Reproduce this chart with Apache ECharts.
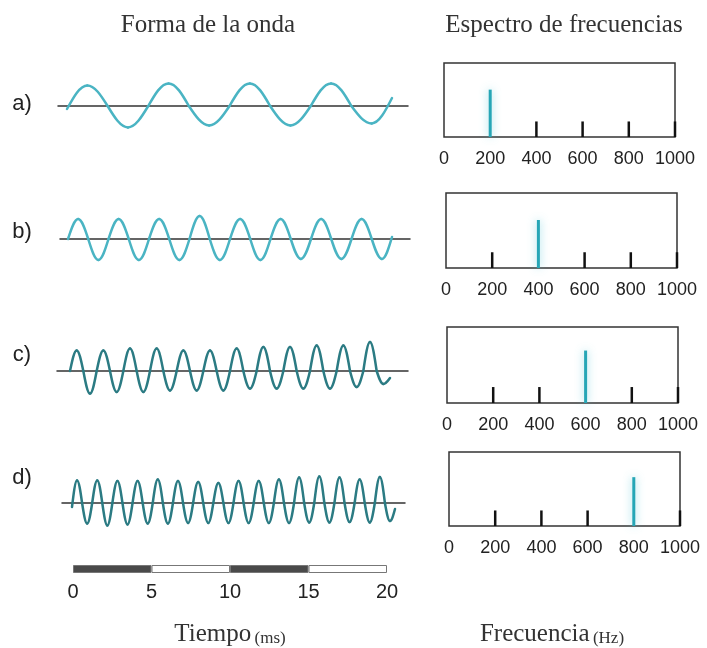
<!DOCTYPE html>
<html>
<head>
<meta charset="utf-8">
<script src="https://cdn.jsdelivr.net/npm/echarts@6/dist/echarts.min.js"></script>
<style>
  html, body { margin: 0; padding: 0; background: #ffffff; }
  #chart { width: 707px; height: 648px; }
</style>
</head>
<body>
<div id="chart"></div>
<script>
// ---- data ----
const rowLabels = ['a)', 'b)', 'c)', 'd)'];
const toneFreqs = [200, 400, 600, 800];          // Hz, one pure tone per row
const toneLevels = [0.64, 0.64, 0.69, 0.66];     // spectral line height (box = 1)
const tickMarks = [200, 400, 600, 800, 1000];    // reference marks inside each box
const tickLevel = 0.21;
const timeSegments = [5, 5, 5, 5];               // ms, alternating scale bar
const waveDuration = 20;                          // ms shown per waveform

// Waveform samples: value at t = 0, each successive peak / trough, value at the end
const waveStartA = -0.15;
const waveExtremesA = [1.03, -1.07, 1.13, -0.97, 1.13, -0.97, 1.13, -0.87];
const waveEndA = 0.4;

const waveStartB = 0;
const waveExtremesB = [1.0, -1.05, 1.0, -1.05, 1.0, -1.05, 1.15, -1.05,
                       1.0, -1.05, 1.0, -1.0, 1.0, -1.0, 1.0, -1.0];
const waveEndB = 0.1;

const waveStartC = 0;
const waveExtremesC = [1.03, -1.13, 1.03, -1.05, 1.12, -1.05, 1.12, -0.97,
                       1.03, -0.97, 1.03, -0.97, 1.12, -0.88, 1.2, -0.88,
                       1.2, -0.88, 1.28, -0.88, 1.28, -0.8, 1.45, -0.65];
const waveEndC = -0.35;

const waveStartD = -0.2;
const waveExtremesD = [1.13, -1.03, 1.13, -1.12, 1.1, -1.07, 1.1, -1.03,
                       1.17, -1.03, 1.1, -1.0, 1.05, -1.0, 1.0, -1.0,
                       1.1, -1.0, 1.1, -1.0, 1.17, -1.0, 1.27, -0.97,
                       1.33, -0.97, 1.27, -0.95, 1.17, -0.97, 1.3, -0.9];
const waveEndD = -0.3;

// ---- layout (pixels) ----
const waveRows = [
  { zeroY: 106, lineL: 58, lineR: 408, waveL: 67, waveR: 392, color: '#4ab4c3' },
  { zeroY: 239, lineL: 60, lineR: 410, waveL: 68, waveR: 392, color: '#4ab4c3' },
  { zeroY: 371, lineL: 57, lineR: 408, waveL: 70, waveR: 390, color: '#2b7b83' },
  { zeroY: 503, lineL: 62, lineR: 405, waveL: 72, waveR: 395, color: '#2b7b83' }
];
const boxes = [
  { left: 444, top: 63,  width: 231, height: 74 },
  { left: 446, top: 193, width: 231, height: 75 },
  { left: 447, top: 327, width: 231, height: 76 },
  { left: 449, top: 452, width: 231, height: 74 }
];
const labelY = [104, 232, 355, 478];
const unitPx = 20;   // waveform amplitude 1 -> 20 px

// Quarter-wave segments [t0, v0, t1, v1] between crossings and extremes
function waveSegments(startV, ext, endV) {
  const q = waveDuration / (2 * ext.length);   // quarter period
  const pts = [[0, startV]];
  ext.forEach((v, k) => {
    pts.push([(2 * k + 1) * q, v]);
    if (k < ext.length - 1) pts.push([(2 * k + 2) * q, 0]);
  });
  pts.push([waveDuration, endV]);
  const segs = [];
  for (let i = 0; i < pts.length - 1; i++) {
    segs.push([pts[i][0], pts[i][1], pts[i + 1][0], pts[i + 1][1]]);
  }
  return segs;
}

const waves = [
  waveSegments(waveStartA, waveExtremesA, waveEndA),
  waveSegments(waveStartB, waveExtremesB, waveEndB),
  waveSegments(waveStartC, waveExtremesC, waveEndC),
  waveSegments(waveStartD, waveExtremesD, waveEndD)
];

// cubic Bezier of a quarter sine wave (normalised control points)
const QX1 = 0.3261, QY1 = 0.5123, QX2 = 0.6381;

function makeWaveRenderer(color) {
  return (params, api) => {
    const a = api.coord([api.value(0), api.value(1)]);
    const b = api.coord([api.value(2), api.value(3)]);
    const dx = b[0] - a[0], dy = b[1] - a[1];
    const rising = Math.abs(api.value(3)) >= Math.abs(api.value(1));
    let c1, c2;
    if (rising) {
      c1 = [a[0] + QX1 * dx, a[1] + QY1 * dy];
      c2 = [a[0] + QX2 * dx, b[1]];
    } else {
      c1 = [a[0] + (1 - QX2) * dx, a[1]];
      c2 = [a[0] + (1 - QX1) * dx, a[1] + (1 - QY1) * dy];
    }
    return {
      type: 'bezierCurve',
      shape: { x1: a[0], y1: a[1], x2: b[0], y2: b[1], cpx1: c1[0], cpy1: c1[1], cpx2: c2[0], cpy2: c2[1] },
      style: { stroke: color, lineWidth: 2.5, fill: null, lineCap: 'round' }
    };
  };
}

const grid = [], xAxis = [], yAxis = [], series = [];

// waveform panels
waveRows.forEach((r, i) => {
  const pxPerMs = (r.waveR - r.waveL) / waveDuration;
  grid.push({ left: r.lineL, width: r.lineR - r.lineL, top: r.zeroY - 1.5 * unitPx, height: 3 * unitPx, show: false });
  xAxis.push({
    type: 'value', gridIndex: i,
    min: -(r.waveL - r.lineL) / pxPerMs,
    max: waveDuration + (r.lineR - r.waveR) / pxPerMs,
    axisLine: { show: true, onZero: true, lineStyle: { color: '#333', width: 1.5 } },
    axisTick: { show: false }, axisLabel: { show: false }, splitLine: { show: false }
  });
  yAxis.push({ type: 'value', gridIndex: i, min: -1.5, max: 1.5, show: false });
  series.push({
    type: 'custom', xAxisIndex: i, yAxisIndex: i, data: waves[i], silent: true,
    renderItem: makeWaveRenderer(r.color)
  });
});

// spectrum panels
boxes.forEach((b, j) => {
  const gi = 4 + j;
  grid.push({ left: b.left, top: b.top, width: b.width, height: b.height, show: true,
              borderColor: '#333', borderWidth: 1.5, backgroundColor: 'transparent' });
  xAxis.push({
    type: 'value', gridIndex: gi, min: 0, max: 1000, interval: 200,
    axisLine: { show: false }, axisTick: { show: false }, splitLine: { show: false },
    axisLabel: { fontSize: 18, color: '#222', margin: 13, fontFamily: 'Liberation Sans',
                 formatter: v => String(v) }
  });
  yAxis.push({ type: 'value', gridIndex: gi, min: 0, max: 1, show: false });
  series.push({
    type: 'custom', xAxisIndex: gi, yAxisIndex: gi, silent: true,
    data: tickMarks.filter(f => f !== toneFreqs[j]).map(f => [f, tickLevel]),
    renderItem: (params, api) => {
      const p0 = api.coord([api.value(0), 0]);
      const p1 = api.coord([api.value(0), api.value(1)]);
      return { type: 'line', shape: { x1: p0[0], y1: p0[1], x2: p1[0], y2: p1[1] },
               style: { stroke: '#111', lineWidth: 2.5 } };
    }
  });
  series.push({
    type: 'custom', xAxisIndex: gi, yAxisIndex: gi, silent: true,
    data: [[toneFreqs[j], toneLevels[j]]],
    renderItem: (params, api) => {
      const p0 = api.coord([api.value(0), 0]);
      const p1 = api.coord([api.value(0), api.value(1)]);
      return { type: 'line', shape: { x1: p0[0], y1: p0[1], x2: p1[0], y2: p1[1] },
               style: { stroke: '#26a6b6', lineWidth: 3, shadowBlur: 8,
                        shadowColor: 'rgba(90,200,215,0.7)' } };
    }
  });
});

// time scale bar
const sgi = 8;
grid.push({ left: 73, top: 565, width: 314, height: 8, show: false });
xAxis.push({
  type: 'value', gridIndex: sgi, min: 0, max: 20, interval: 5,
  axisLine: { show: false }, axisTick: { show: false }, splitLine: { show: false },
  axisLabel: { fontSize: 20, color: '#222', margin: 9, fontFamily: 'Liberation Sans' }
});
yAxis.push({ type: 'category', gridIndex: sgi, data: ['t'], show: false });
timeSegments.forEach((v, k) => {
  series.push({
    type: 'bar', xAxisIndex: sgi, yAxisIndex: sgi, stack: 'scale', barWidth: 8, silent: true,
    data: [v],
    itemStyle: { color: k % 2 === 0 ? '#4a4a4a' : '#ffffff', borderColor: '#777', borderWidth: 1 }
  });
});

// texts
const serifRich = {
  a: { fontSize: 25, fontFamily: 'Liberation Serif', fill: '#333', verticalAlign: 'bottom', lineHeight: 30 },
  b: { fontSize: 17, fontFamily: 'Liberation Serif', fill: '#333', verticalAlign: 'bottom', lineHeight: 30 }
};
const graphic = [
  { type: 'text', x: 208, y: 25, style: { text: 'Forma de la onda', font: '25px "Liberation Serif"',
      fill: '#333', textAlign: 'center', textVerticalAlign: 'middle' } },
  { type: 'text', x: 564, y: 25, style: { text: 'Espectro de frecuencias', font: '25px "Liberation Serif"',
      fill: '#333', textAlign: 'center', textVerticalAlign: 'middle' } },
  { type: 'text', x: 230, y: 632, style: { text: '{a|Tiempo} {b|(ms)}', textAlign: 'center',
      textVerticalAlign: 'middle', rich: serifRich } },
  { type: 'text', x: 552, y: 632, style: { text: '{a|Frecuencia} {b|(Hz)}', textAlign: 'center',
      textVerticalAlign: 'middle', rich: serifRich } }
];
rowLabels.forEach((t, i) => {
  graphic.push({ type: 'text', x: 22, y: labelY[i], style: { text: t, font: '22px "Liberation Sans"',
    fill: '#222', textAlign: 'center', textVerticalAlign: 'middle' } });
});

const chart = echarts.init(document.getElementById('chart'), null, { renderer: 'canvas' });
chart.setOption({
  animation: false,
  backgroundColor: '#ffffff',
  grid, xAxis, yAxis, series, graphic
});
</script>
</body>
</html>
